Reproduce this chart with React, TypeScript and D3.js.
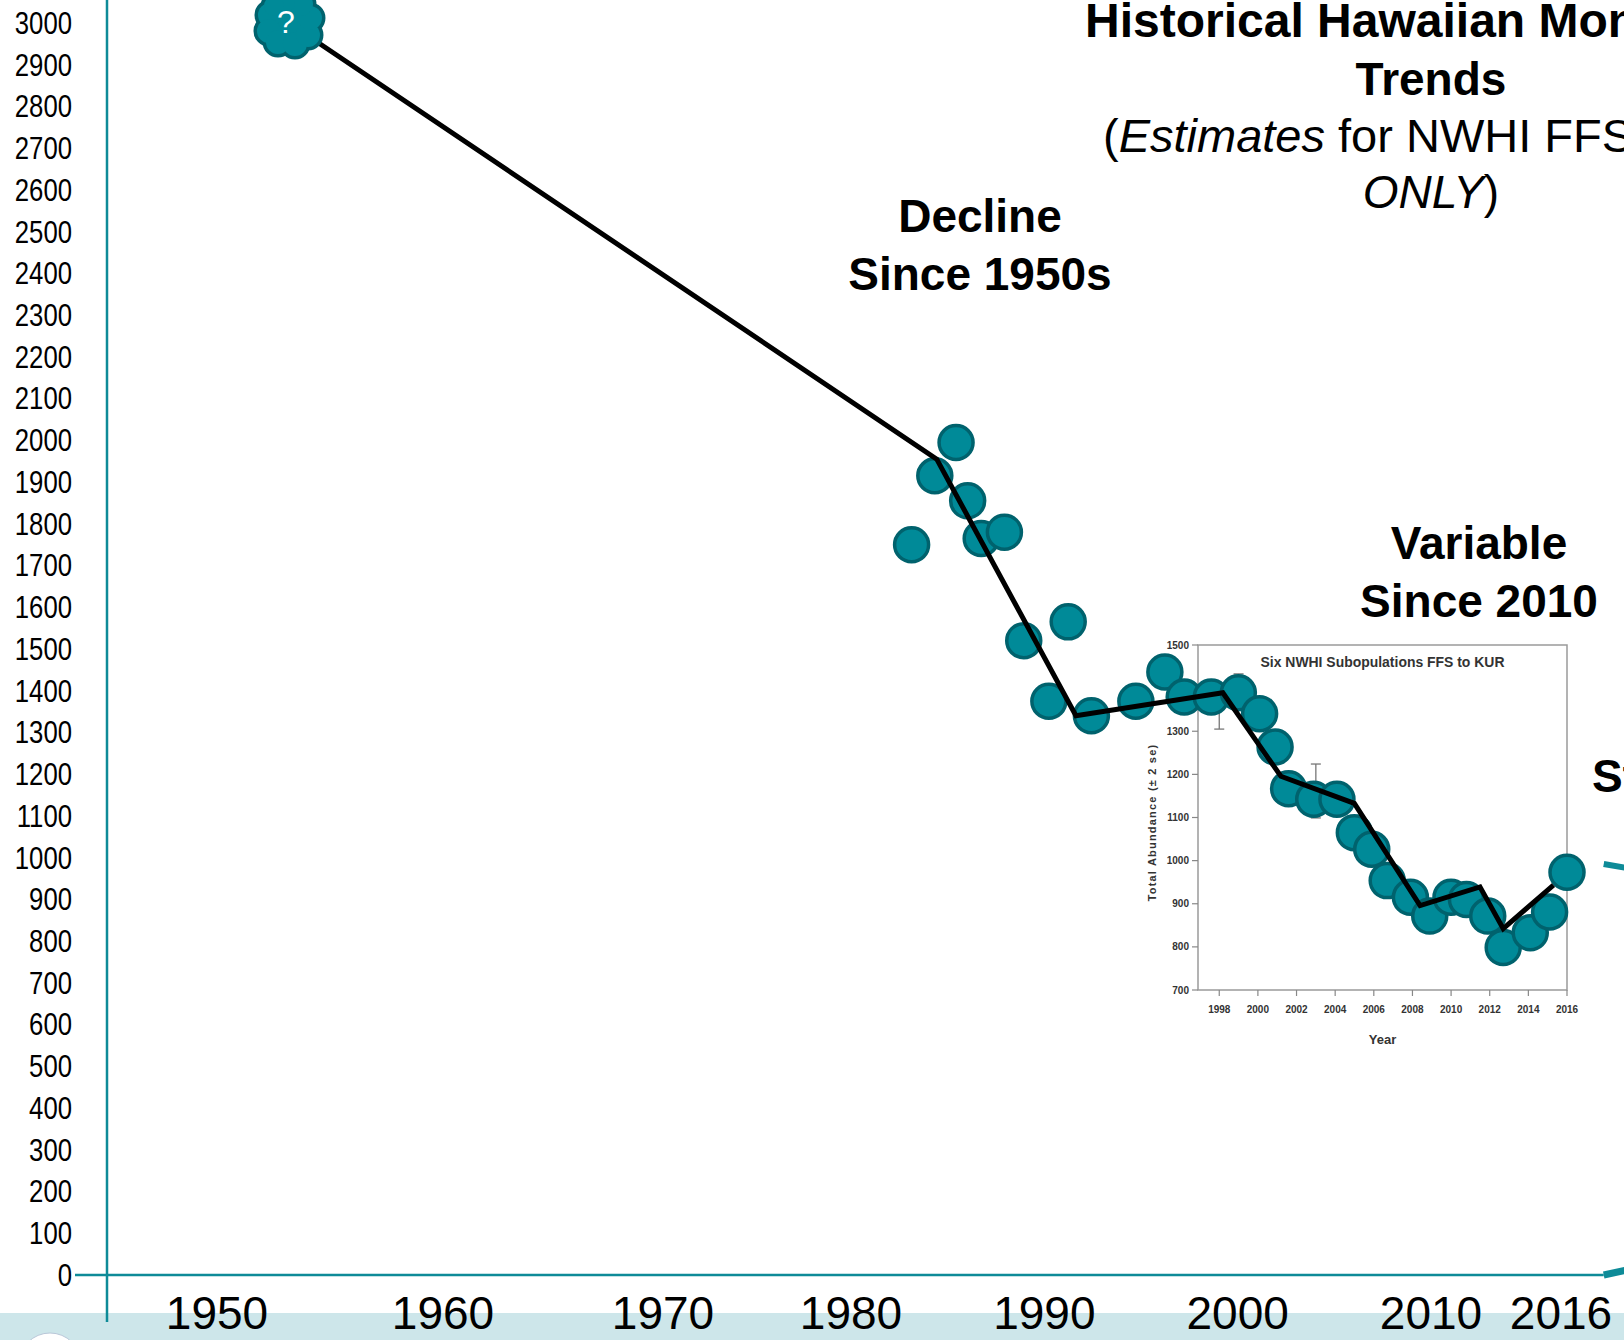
import React from 'react';
import * as d3 from 'd3';

// ---------- data ----------
const yTickValues = d3.range(0, 3001, 100);
const xLabelYears = [1950, 1960, 1970, 1980, 1990, 2000, 2010, 2016];

const unknownYear = 1952.3;
const unknownValue = 3000;

const trendYears = [1952.3, 1983.4, 1990.6, 1998.2, 2001.2, 2005.0, 2008.4, 2011.5, 2012.7, 2015.3];
const trendValues = [3000, 1955, 1340, 1395, 1195, 1130, 885, 930, 830, 934];

const dotYears = [
  1982.1, 1983.3, 1984.4, 1985.0, 1985.7, 1986.9, 1987.9, 1989.2, 1990.2, 1991.4,
  1993.7, 1995.2, 1996.2, 1997.6, 1999.0, 2000.1, 2000.9, 2001.6, 2002.9, 2004.1,
  2005.0, 2005.9, 2006.7, 2007.9, 2008.9, 2010.0, 2010.8, 2011.9, 2012.7, 2014.1,
  2015.1, 2016.0,
];
const dotValues = [
  1750, 1915, 1995, 1855, 1765, 1780, 1520, 1375, 1565, 1340,
  1375, 1445, 1385, 1385, 1395, 1345, 1265, 1165, 1140, 1140,
  1060, 1020, 945, 905, 860, 905, 900, 860, 785, 820,
  870, 965,
];

// inset chart (Six NWHI Subopulations FFS to KUR)
const insetXTicks = d3.range(1998, 2017, 2);
const insetYTickMarks = [700, 800, 900, 1000, 1100, 1200, 1300, 1400, 1500];
const insetYTickLabels = [700, 800, 900, 1000, 1100, 1200, 1300, 1500];
const errYears = [1998, 1999, 2003];
const errLow = [1305, 1350, 1099];
const errHigh = [1395, 1433, 1224];

// fragments of other slide trend lines at right edge
const stableYears = [2017.9, 2019.1];
const stableValues = [985, 975];
const baseYears = [2017.9, 2019.1];
const baseValues = [0, 12];

// cloud bump offsets (shape of the "?" marker)
const cloudBumps: [number, number, number][] = [
  [0, 0, 21], [-19, -8, 12], [-20, 8, 12], [-11, 19, 12], [6, 21, 12],
  [19, 12, 12], [21, -5, 12], [12, -19, 12], [-6, -21, 12], [-15, -17, 10],
];

const TEAL = '#0e8b98';
const DOT_FILL = '#008a98';
const DOT_STROKE = '#00626d';
const SANS = '"Liberation Sans", Arial, sans-serif';

export default function App() {
  const W = 1624;
  const H = 1340;

  const x = d3.scaleLinear().domain([1950, 1960, 1970, 1980, 2016]).range([237, 463, 683, 871, 1567]);
  const y = d3.scaleLinear().domain([0, 3000]).range([1275, 23]);
  const ix = d3.scaleLinear().domain([1996.9, 2016]).range([1198, 1567]);
  const iy = d3.scaleLinear().domain([700, 1500]).range([990, 645]);

  const axisX = 107;
  const line = d3.line<[number, number]>().x((d) => x(d[0])).y((d) => y(d[1]));

  const trendPath = line(trendYears.map((yr, i) => [yr, trendValues[i]]));
  const stablePath = line(stableYears.map((yr, i) => [yr, stableValues[i]]));
  const basePath = line(baseYears.map((yr, i) => [yr, baseValues[i]]));

  const cx = x(unknownYear);
  const cy = y(unknownValue);

  return (
    <svg
      width={W}
      height={H}
      viewBox={`0 0 ${W} ${H}`}
      style={{ position: 'absolute', left: 0, top: 0, display: 'block', background: '#fff' }}
    >
      {/* bottom band */}
      <rect x={0} y={1313} width={W} height={H - 1313} fill="#cde6ea" />

      {/* NOAA logo fragment */}
      <circle cx={50} cy={1364} r={31} fill="#fff" stroke="#b9c7d8" strokeWidth={1} />
      <circle cx={50} cy={1364} r={24} fill="#1c4f9f" />

      {/* y axis tick labels (condensed) */}
      {yTickValues.map((v) => (
        <text
          key={v}
          transform={`translate(72,${y(v)}) scale(0.83,1)`}
          dy="0.35em"
          textAnchor="end"
          fontFamily={SANS}
          fontSize={31}
          fill="#000"
        >
          {v}
        </text>
      ))}

      {/* axes */}
      <line x1={axisX} x2={axisX} y1={0} y2={1322} stroke={TEAL} strokeWidth={2.5} />
      <line x1={75} x2={x(stableYears[0])} y1={y(0)} y2={y(0)} stroke={TEAL} strokeWidth={2.5} />
      <path d={basePath || ''} fill="none" stroke={TEAL} strokeWidth={7} />
      <path d={stablePath || ''} fill="none" stroke={TEAL} strokeWidth={6} />

      {/* x labels */}
      {xLabelYears.map((yr) => (
        <text
          key={yr}
          x={x(yr)}
          dx={yr === 2016 ? -6 : -20}
          y={1329}
          textAnchor="middle"
          fontFamily={SANS}
          fontSize={46}
          fill="#000"
        >
          {yr}
        </text>
      ))}

      {/* inset chart */}
      <g fontFamily={SANS} fontWeight="bold" fill="#333">
        <rect
          x={ix(1996.9)}
          y={iy(1500)}
          width={ix(2016) - ix(1996.9)}
          height={iy(700) - iy(1500)}
          fill="none"
          stroke="#9a9a9a"
          strokeWidth={1.5}
        />
        {insetYTickMarks.map((v) => (
          <line key={v} x1={ix(1996.9) - 6} x2={ix(1996.9)} y1={iy(v)} y2={iy(v)} stroke="#888" strokeWidth={1.2} />
        ))}
        {insetYTickLabels.map((v) => (
          <text key={v} x={ix(1996.9) - 9} y={iy(v)} dy="0.35em" textAnchor="end" fontSize={10}>
            {v}
          </text>
        ))}
        {insetXTicks.map((yr) => (
          <g key={yr}>
            <line x1={ix(yr)} x2={ix(yr)} y1={iy(700)} y2={iy(700) + 6} stroke="#888" strokeWidth={1.2} />
            <text x={ix(yr)} y={iy(700) + 23} textAnchor="middle" fontSize={10}>
              {yr}
            </text>
          </g>
        ))}
        <text x={(ix(1996.9) + ix(2016)) / 2} y={iy(700) + 54} textAnchor="middle" fontSize={13}>
          Year
        </text>
        <text
          transform={`translate(${ix(1996.9) - 42},${(iy(700) + iy(1500)) / 2 + 5}) rotate(-90)`}
          textAnchor="middle"
          fontSize={11}
          letterSpacing={1.2}
        >
          Total Abundance (± 2 se)
        </text>
        <text
          transform={`translate(${(ix(1996.9) + ix(2016)) / 2},${iy(1500) + 22}) scale(0.9,1)`}
          textAnchor="middle"
          fontSize={15.5}
        >
          Six NWHI Subopulations FFS to KUR
        </text>
        {errYears.map((yr, i) => (
          <g key={yr} stroke="#777" strokeWidth={1.3}>
            <line x1={ix(yr)} x2={ix(yr)} y1={iy(errLow[i])} y2={iy(errHigh[i])} />
            <line x1={ix(yr) - 5} x2={ix(yr) + 5} y1={iy(errLow[i])} y2={iy(errLow[i])} />
            <line x1={ix(yr) - 5} x2={ix(yr) + 5} y1={iy(errHigh[i])} y2={iy(errHigh[i])} />
          </g>
        ))}
      </g>

      {/* dots */}
      {dotYears.map((yr, i) => (
        <circle
          key={i}
          cx={x(yr)}
          cy={y(dotValues[i])}
          r={17}
          fill={DOT_FILL}
          stroke={DOT_STROKE}
          strokeWidth={3.5}
        />
      ))}

      {/* trend line */}
      <path d={trendPath || ''} fill="none" stroke="#000" strokeWidth={5} strokeLinejoin="miter" />

      {/* "?" cloud marker */}
      <g>
        {cloudBumps.map(([dx, dy, r], i) => (
          <circle key={`o${i}`} cx={cx + dx} cy={cy + dy} r={r} fill={DOT_STROKE} stroke={DOT_STROKE} strokeWidth={7} />
        ))}
        {cloudBumps.map(([dx, dy, r], i) => (
          <circle key={`i${i}`} cx={cx + dx} cy={cy + dy} r={r} fill={DOT_FILL} />
        ))}
        <text x={cx - 3} y={cy + 10} textAnchor="middle" fontFamily={SANS} fontSize={32} fill="#fff">
          ?
        </text>
      </g>

      {/* annotations */}
      <g fontFamily={SANS} fill="#000">
        <text x={1085} y={37} textAnchor="start" fontSize={48} fontWeight="bold">
          Historical Hawaiian Monk Seal
        </text>
        <text x={1431} y={95} textAnchor="middle" fontSize={46} fontWeight="bold">
          Trends
        </text>
        <text x={1103} y={152} textAnchor="start" fontSize={47}>
          (<tspan fontStyle="italic">Estimates</tspan> for NWHI FFS to KUR
        </text>
        <text x={1431} y={208} textAnchor="middle" fontSize={46}>
          <tspan fontStyle="italic">ONLY</tspan>)
        </text>

        <text x={980} y={232} textAnchor="middle" fontSize={46} fontWeight="bold">
          Decline
        </text>
        <text x={980} y={290} textAnchor="middle" fontSize={46} fontWeight="bold">
          Since 1950s
        </text>

        <text x={1479} y={559} textAnchor="middle" fontSize={46} fontWeight="bold">
          Variable
        </text>
        <text x={1479} y={617} textAnchor="middle" fontSize={46} fontWeight="bold">
          Since 2010
        </text>

        <text x={1592} y={792} textAnchor="start" fontSize={46} fontWeight="bold">
          Stable
        </text>
      </g>
    </svg>
  );
}
